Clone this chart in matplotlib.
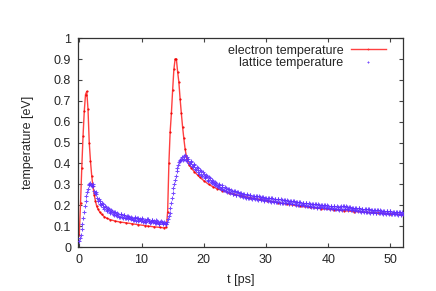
import numpy as np
import matplotlib
matplotlib.use("Agg")
import matplotlib.pyplot as plt

plt.rcParams['font.family'] = ['Liberation Sans', 'DejaVu Sans']

# electron temperature (eV) vs time (ps)
t_electron = [0, 0.2, 0.4, 0.6, 0.8, 1.0, 1.2, 1.4, 1.6, 1.8, 2.0, 2.2, 2.4, 2.6, 2.8,
              3.0, 3.3, 3.6, 4.0, 4.4, 5.0, 5.7, 6.5, 7.5, 8.4, 9.5, 10.5, 11.1, 12, 13,
              13.6, 14.0, 14.2, 14.4, 14.6, 14.8, 15.0, 15.2, 15.4, 15.6, 15.8, 16.0, 16.2,
              16.4, 16.6, 16.8, 17.0, 17.3, 17.6, 18.0, 18.5, 19.0, 19.4, 20.0, 20.8, 21.5,
              22.1, 23, 24, 24.8, 26, 27.5, 29, 30.2, 32, 33.4, 35.5, 37, 38.8, 40.9, 42.5,
              44.1, 46.3, 48, 50, 52]
T_electron = [0.06, 0.21, 0.38, 0.53, 0.65, 0.73, 0.745, 0.66, 0.50, 0.41, 0.34, 0.29, 0.25,
              0.22, 0.195, 0.182, 0.167, 0.156, 0.146, 0.138, 0.131, 0.125, 0.12, 0.116, 0.112,
              0.107, 0.103, 0.100, 0.097, 0.094, 0.092, 0.095, 0.17, 0.40, 0.55, 0.64, 0.75,
              0.85, 0.90, 0.90, 0.84, 0.79, 0.71, 0.64, 0.575, 0.52, 0.47, 0.42, 0.395, 0.378,
              0.36, 0.345, 0.333, 0.318, 0.30, 0.288, 0.28, 0.27, 0.26, 0.253, 0.245, 0.236,
              0.228, 0.222, 0.212, 0.205, 0.195, 0.19, 0.184, 0.178, 0.174, 0.17, 0.166, 0.163,
              0.159, 0.155]

# lattice temperature (eV): readings every 0.25 ps starting at 0 ps
lattice_step = 0.25
T_lattice = [
    0.030, 0.058, 0.112, 0.168, 0.222, 0.262, 0.295, 0.306,
    0.292, 0.290, 0.258, 0.252, 0.221, 0.220, 0.199, 0.205,
    0.183, 0.192, 0.172, 0.181, 0.163, 0.171, 0.155, 0.166,
    0.150, 0.160, 0.145, 0.156, 0.141, 0.152, 0.137, 0.148,
    0.145, 0.132, 0.141, 0.129, 0.138, 0.137, 0.125, 0.134,
    0.133, 0.122, 0.131, 0.120, 0.132, 0.126, 0.118, 0.128,
    0.124, 0.114, 0.126, 0.112, 0.121, 0.118, 0.110, 0.117,
    0.108, 0.132, 0.163, 0.212, 0.257, 0.303, 0.342, 0.378,
    0.405, 0.410, 0.432, 0.422, 0.440, 0.413, 0.421, 0.398,
    0.409, 0.382, 0.392, 0.367, 0.379, 0.352, 0.366, 0.340,
    0.351, 0.329, 0.339, 0.318, 0.330, 0.306, 0.318, 0.298,
    0.308, 0.286, 0.299, 0.280, 0.289, 0.272, 0.283, 0.264,
    0.276, 0.259, 0.270, 0.252, 0.266, 0.248, 0.262, 0.246,
    0.257, 0.240, 0.254, 0.236, 0.250, 0.234, 0.247, 0.232,
    0.244, 0.230, 0.243, 0.226, 0.240, 0.225, 0.238, 0.222,
    0.237, 0.221, 0.235, 0.218, 0.233, 0.217, 0.230, 0.215,
    0.229, 0.212, 0.227, 0.210, 0.224, 0.209, 0.222, 0.207,
    0.220, 0.205, 0.219, 0.202, 0.216, 0.200, 0.215, 0.199,
    0.212, 0.197, 0.211, 0.195, 0.208, 0.193, 0.206, 0.191,
    0.204, 0.189, 0.203, 0.188, 0.201, 0.187, 0.200, 0.185,
    0.198, 0.183, 0.197, 0.182, 0.195, 0.181, 0.194, 0.179,
    0.195, 0.179, 0.196, 0.180, 0.194, 0.178, 0.191, 0.176,
    0.189, 0.173, 0.187, 0.172, 0.185, 0.170, 0.183, 0.168,
    0.182, 0.167, 0.180, 0.165, 0.178, 0.163, 0.177, 0.162,
    0.175, 0.161, 0.174, 0.160, 0.173, 0.159, 0.172, 0.158,
    0.171, 0.157, 0.170, 0.156, 0.169, 0.155, 0.168, 0.154,
    0.160,
]
# lattice temperature (eV): readings every 0.25 ps starting at 0.125 ps
lattice_offset = 0.125
T_lattice_mid = [
    0.042, 0.085, 0.140, 0.196, 0.243, 0.280, 0.300, 0.298,
    0.300, 0.270, 0.262, 0.236, 0.232, 0.206, 0.212, 0.190,
    0.195, 0.175, 0.185, 0.166, 0.175, 0.158, 0.168, 0.152,
    0.162, 0.146, 0.158, 0.142, 0.155, 0.139, 0.150, 0.134,
    0.138, 0.146, 0.130, 0.143, 0.127, 0.140, 0.128, 0.124,
    0.137, 0.125, 0.119, 0.135, 0.123, 0.117, 0.130, 0.121,
    0.116, 0.128, 0.119, 0.109, 0.124, 0.113, 0.120, 0.112,
    0.118, 0.147, 0.188, 0.236, 0.282, 0.322, 0.362, 0.392,
    0.418, 0.422, 0.415, 0.437, 0.419, 0.430, 0.402, 0.414,
    0.388, 0.399, 0.372, 0.385, 0.358, 0.371, 0.345, 0.357,
    0.334, 0.345, 0.322, 0.335, 0.310, 0.323, 0.300, 0.313,
    0.291, 0.303, 0.284, 0.295, 0.274, 0.287, 0.268, 0.280,
    0.263, 0.274, 0.256, 0.270, 0.251, 0.264, 0.249, 0.258,
    0.244, 0.256, 0.239, 0.252, 0.237, 0.249, 0.234, 0.246,
    0.233, 0.245, 0.229, 0.242, 0.228, 0.240, 0.226, 0.237,
    0.224, 0.236, 0.221, 0.234, 0.220, 0.232, 0.218, 0.229,
    0.216, 0.228, 0.213, 0.226, 0.212, 0.223, 0.210, 0.221,
    0.207, 0.220, 0.205, 0.218, 0.203, 0.215, 0.202, 0.213,
    0.200, 0.212, 0.198, 0.210, 0.196, 0.208, 0.194, 0.205,
    0.192, 0.204, 0.191, 0.202, 0.190, 0.201, 0.188, 0.199,
    0.186, 0.198, 0.185, 0.196, 0.184, 0.195, 0.182, 0.193,
    0.183, 0.197, 0.184, 0.196, 0.181, 0.193, 0.179, 0.189,
    0.176, 0.188, 0.175, 0.186, 0.173, 0.184, 0.171, 0.182,
    0.170, 0.181, 0.168, 0.179, 0.166, 0.178, 0.165, 0.176,
    0.164, 0.175, 0.163, 0.174, 0.162, 0.173, 0.161, 0.171,
    0.160, 0.170, 0.159, 0.169, 0.158, 0.168, 0.157, 0.166,
]
t_lattice = np.arange(len(T_lattice)) * lattice_step
t_lattice_mid = lattice_offset + np.arange(len(T_lattice_mid)) * lattice_step

x_ticks = [0, 10, 20, 30, 40, 50]
y_ticks = [0, 0.1, 0.2, 0.3, 0.4, 0.5, 0.6, 0.7, 0.8, 0.9, 1]
y_ticklabels = ['0', '0.1', '0.2', '0.3', '0.4', '0.5', '0.6', '0.7', '0.8', '0.9', '1']

fig = plt.figure(figsize=(4.36, 2.91), dpi=100)
ax = fig.add_axes([0.179, 0.151, 0.745, 0.718])

text_color = '#262626'
lat_color = '#5f2dff'
ax.plot(t_electron, T_electron, color='#ff4040', lw=1.0, marker='.', ms=1.1,
        mfc='#ee0000', mec='#ee0000', label='electron temperature', zorder=2)
ax.plot(t_lattice, T_lattice, linestyle='none', marker='+', ms=2.8, mew=0.75,
        color=lat_color, alpha=0.85, label='lattice temperature', zorder=3)
ax.plot(t_lattice_mid, T_lattice_mid, linestyle='none', marker='+', ms=2.8, mew=0.75,
        color=lat_color, alpha=0.85, zorder=3)

ax.set_xlim(-0.2, 52)
ax.set_ylim(0, 1)
ax.set_xticks(x_ticks)
ax.set_yticks(y_ticks)
ax.set_yticklabels(y_ticklabels)
ax.tick_params(direction='in', length=3, width=0.8, top=True, right=True,
               labelsize=9, colors='#444444', labelcolor=text_color, pad=5)
for s in ax.spines.values():
    s.set_color('#333333')
    s.set_linewidth(0.9)

ax.set_xlabel('t [ps]', fontsize=9, color=text_color, labelpad=6)
ax.set_ylabel('temperature [eV]', fontsize=9, color=text_color, labelpad=14)

leg = ax.legend(loc='upper right', bbox_to_anchor=(0.975, 1.01), frameon=False,
                markerfirst=False, fontsize=9, handlelength=2.8, labelspacing=0.05,
                handletextpad=0.6, borderaxespad=0.3, markerscale=0.4)
for txt in leg.get_texts():
    txt.set_color(text_color)
for col in leg._legend_handle_box.get_children():
    col.align = 'right'

fig.savefig('out.png', dpi=100)
